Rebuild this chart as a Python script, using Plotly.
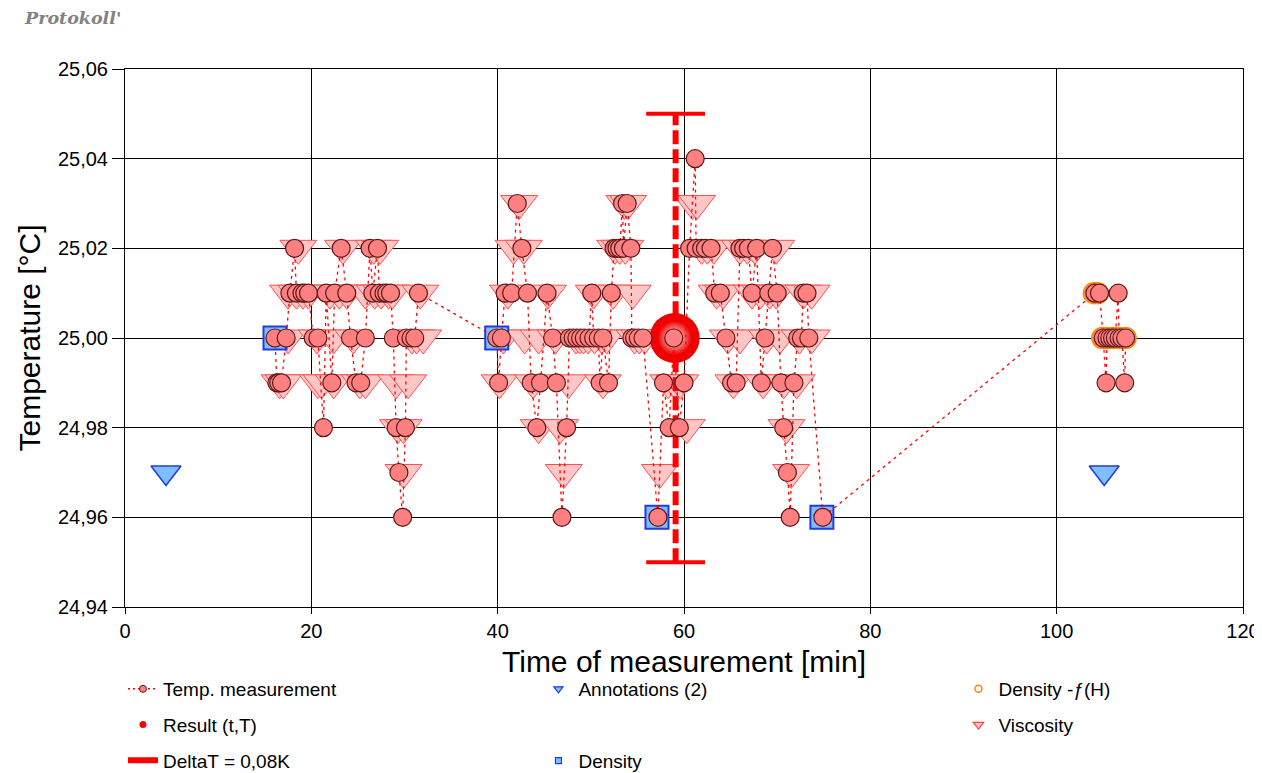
import plotly.graph_objects as go

# ---------------- data ----------------
temp_t = [16.1, 16.3, 16.5, 16.8, 17.3, 17.7, 18.2, 18.4, 19.0, 19.3, 19.7, 20.2, 20.7, 21.3, 21.6,
          22.2, 22.5, 23.2, 23.8, 24.2, 24.8, 25.3, 25.8, 26.3, 26.6, 27.1, 27.3, 27.8, 28.1, 28.5,
          28.8, 29.1, 29.4, 29.8, 30.1, 30.2, 30.7, 31.1, 31.5,
          39.9, 40.1, 40.4, 40.8, 41.5, 42.1, 42.6, 43.2, 43.6, 44.2, 44.6, 45.3, 45.9, 46.3, 46.9,
          47.4, 47.7, 48.1, 48.5, 48.9, 49.3, 49.8, 50.1, 50.3, 50.8, 51.0, 51.3, 51.9, 52.2, 52.5,
          52.8, 53.1, 53.4, 53.5, 53.9, 54.3, 54.4, 54.7, 55.1, 55.6, 57.2, 57.8, 58.4, 58.9, 59.5,
          60.0, 60.6, 61.2, 61.3, 61.9, 62.3, 62.9, 63.3, 63.9, 64.5, 65.1, 65.6, 66.0, 66.4, 66.9,
          67.3, 67.8, 68.3, 68.7, 69.1, 69.5, 70.0, 70.4, 70.7, 71.1, 71.4, 71.8, 72.2, 72.6, 72.8,
          73.2, 73.4, 74.9,
          104.1, 104.6, 105.0, 105.3, 105.4, 105.7, 106.0, 106.3, 106.6, 106.7, 107.0, 107.3, 107.4]
temp_T = [25.00, 24.99, 24.99, 24.99, 25.00, 25.01, 25.02, 25.01, 25.01, 25.01, 25.01, 25.00, 25.00, 24.98, 25.01,
          24.99, 25.01, 25.02, 25.01, 25.00, 24.99, 24.99, 25.00, 25.02, 25.01, 25.02, 25.01, 25.01, 25.01, 25.01,
          25.00, 24.98, 24.97, 24.96, 24.98, 25.00, 25.00, 25.00, 25.01,
          25.00, 24.99, 25.00, 25.01, 25.01, 25.03, 25.02, 25.01, 24.99, 24.98, 24.99, 25.01, 25.00, 24.99, 24.96,
          24.98, 25.00, 25.00, 25.00, 25.00, 25.00, 25.00, 25.01, 25.00, 25.00, 24.99, 25.00, 24.99, 25.01, 25.02,
          25.02, 25.02, 25.03, 25.02, 25.03, 25.02, 25.00, 25.00, 25.00, 25.00, 24.96, 24.99, 24.98, 25.00, 24.98,
          24.99, 25.02, 25.04, 25.02, 25.02, 25.02, 25.02, 25.01, 25.01, 25.00, 24.99, 24.99, 25.02, 25.02, 25.02,
          25.01, 25.02, 24.99, 25.00, 25.01, 25.02, 25.01, 24.99, 24.98, 24.97, 24.96, 24.99, 25.00, 25.00, 25.01,
          25.01, 25.00, 24.96,
          25.01, 25.01, 25.00, 24.99, 25.00, 25.00, 25.00, 25.00, 25.01, 25.00, 25.00, 24.99, 25.00]

visc_t = [16.6, 17.0, 17.5, 17.5, 18.4, 18.6, 19.1, 19.7, 20.6, 20.7, 21.1, 22.0, 22.4, 22.4, 23.0,
          23.4, 23.8, 24.5, 25.2, 25.8, 25.8, 26.7, 26.8, 27.4, 27.5, 28.3, 28.7, 29.1, 29.3, 29.9,
          29.9, 30.4, 30.8, 31.3, 31.7, 32.0,
          40.2, 40.6, 41.1, 41.7, 42.3, 42.8, 42.9, 43.8, 44.4, 44.4, 45.4, 46.2, 46.7, 47.1, 47.6,
          48.4, 48.8, 49.2, 49.7, 50.3, 50.4, 51.2, 51.3, 51.7, 52.4, 52.6, 53.1, 53.6, 53.7, 54.0,
          54.5, 54.7, 55.2, 55.8, 57.4, 58.3, 59.0, 59.6, 60.3, 60.9, 61.4, 61.9, 62.5, 63.2, 63.5,
          64.2, 64.7, 65.3, 66.0, 66.0, 66.8, 67.3, 67.6, 68.2, 68.5, 68.9, 69.2, 69.9, 69.9, 70.3,
          70.7, 71.0, 71.5, 72.1, 72.4, 72.8, 73.7, 73.7]
visc_T = [24.99, 24.99, 25.00, 25.01, 25.01, 25.02, 25.01, 25.01, 25.00, 24.99, 24.99, 25.01, 25.00, 24.99, 25.01,
          25.02, 25.01, 25.00, 24.99, 24.99, 25.01, 25.02, 25.01, 25.02, 25.01, 25.01, 25.01, 24.99, 24.98, 24.98,
          24.97, 24.99, 25.00, 25.00, 25.01, 25.00,
          24.99, 25.00, 25.01, 25.02, 25.03, 25.02, 25.00, 24.99, 25.00, 24.98, 25.01, 25.00, 24.98, 24.97, 24.99,
          25.00, 25.00, 25.00, 25.00, 25.01, 25.00, 25.00, 24.99, 25.00, 25.01, 25.02, 25.02, 25.03, 25.02, 25.03,
          25.01, 25.00, 25.00, 25.00, 24.97, 24.99, 24.99, 24.99, 24.98, 25.03, 25.03, 25.02, 25.02, 25.02, 25.01,
          25.01, 25.00, 24.99, 25.00, 25.02, 25.02, 25.01, 25.02, 25.01, 24.99, 25.00, 25.01, 25.01, 25.02, 25.00,
          24.99, 24.98, 24.97, 24.99, 25.00, 25.01, 25.01, 25.00]

dens_t = [16.1, 39.9, 57.1, 74.8]
dens_T = [25.00, 25.00, 24.96, 24.96]

densfh_t = [104.0, 104.4, 104.9, 105.4, 106.0, 106.6, 107.4]
densfh_T = [25.01, 25.01, 25.00, 25.00, 25.00, 25.00, 25.00]

annot_t = [4.4, 105.1]
annot_T = [24.97, 24.97]

result_t = [59.0]
result_T = [25.00]

delta_t = [59.1, 59.1]
delta_T = [24.95, 25.05]

x_ticks = [0, 20, 40, 60, 80, 100, 120]
y_ticks = [24.94, 24.96, 24.98, 25.00, 25.02, 25.04, 25.06]

# ---------------- styles ----------------
SALMON = "rgb(255,128,128)"
DARK = "rgb(90,25,25)"
PINK = "rgb(255,198,198)"
RED = "rgb(255,0,0)"
LBLUE = "rgb(128,190,255)"
BLUE = "rgb(30,60,230)"
ORANGE = "rgb(255,140,0)"

fig = go.Figure()

# Viscosity
fig.add_trace(go.Scatter(x=visc_t, y=visc_T, mode="markers", showlegend=False, hoverinfo="skip",
                         marker=dict(symbol="triangle-down", size=32, color=PINK,
                                     line=dict(color="rgb(255,80,80)", width=1))))
# Density
fig.add_trace(go.Scatter(x=dens_t, y=dens_T, mode="markers", showlegend=False,
                         marker=dict(symbol="square", size=23, color=LBLUE, line=dict(color=BLUE, width=2))))
# Density -f(H)
fig.add_trace(go.Scatter(x=densfh_t, y=densfh_T, mode="markers", showlegend=False,
                         marker=dict(symbol="circle", size=21, color=SALMON, line=dict(color=ORANGE, width=1.5))))
# Annotations
fig.add_trace(go.Scatter(x=annot_t, y=annot_T, mode="markers", showlegend=False,
                         marker=dict(symbol="triangle-down", size=26, color=LBLUE, line=dict(color=BLUE, width=1.5))))
# DeltaT bar
fig.add_trace(go.Scatter(x=delta_t, y=delta_T, mode="lines", showlegend=False,
                         line=dict(color=RED, width=6, dash="14px,5px")))
fig.add_trace(go.Scatter(x=delta_t, y=delta_T, mode="markers", showlegend=False,
                         marker=dict(symbol="line-ew", size=42, line=dict(color=RED, width=4))))
# Result sphere (solid body + highlight)
fig.add_trace(go.Scatter(x=result_t, y=result_T, mode="markers", showlegend=False,
                         marker=dict(symbol="circle", size=50, color="rgb(240,0,0)", line=dict(width=0))))
fig.add_trace(go.Scatter(x=result_t, y=result_T, mode="markers", showlegend=False,
                         marker=dict(symbol="circle", size=34, color="rgb(240,0,0)",
                                     gradient=dict(type="radial", color="rgb(255,255,255)"),
                                     line=dict(width=0))))
# Temperature measurement
fig.add_trace(go.Scatter(x=temp_t, y=temp_T, mode="lines+markers", showlegend=False,
                         line=dict(color=RED, width=1.3, dash="3px,4px"),
                         marker=dict(symbol="circle", size=18, color=SALMON, line=dict(color=DARK, width=1.2))))

# ---------------- legend proxies ----------------
def proxy(name, legend, group, **kw):
    fig.add_trace(go.Scatter(x=[None], y=[None], name=name, legend=legend, legendgroup=group,
                             showlegend=True, **kw))

proxy("Temp. measurement", "legend", "a", mode="lines+markers",
      line=dict(color=RED, width=1.5, dash="2px,3px"),
      marker=dict(symbol="circle", size=7, color=SALMON, line=dict(color=DARK, width=1)))
proxy("Result (t,T)", "legend", "b", mode="markers",
      marker=dict(symbol="circle", size=7, color=RED, line=dict(width=0)))
proxy("DeltaT = 0,08K", "legend", "c", mode="lines", line=dict(color=RED, width=6))
proxy("Annotations (2)", "legend2", "d", mode="markers",
      marker=dict(symbol="triangle-down", size=8, color=LBLUE, line=dict(color=BLUE, width=1.2)))
proxy("Density", "legend2", "e", mode="markers",
      marker=dict(symbol="square", size=6, color=LBLUE, line=dict(color=BLUE, width=1.2)))
proxy("Density -ƒ(H)", "legend3", "f", mode="markers",
      marker=dict(symbol="circle-open", size=7, color=ORANGE, line=dict(color=ORANGE, width=1.5)))
proxy("Viscosity", "legend3", "g", mode="markers",
      marker=dict(symbol="triangle-down", size=9, color=PINK, line=dict(color="rgb(255,60,60)", width=1.2)))

legend_font = dict(family="Liberation Sans, Arial, sans-serif", size=19, color="black")
common_leg = dict(font=legend_font, orientation="v", yanchor="top", xanchor="left",
                  bgcolor="rgba(0,0,0,0)", borderwidth=0, itemclick=False)

fig.update_layout(
    width=1254, height=800,
    margin=dict(l=117, r=19, t=61, b=201),
    paper_bgcolor="white", plot_bgcolor="white",
    separators=",.",
    font=dict(family="Liberation Sans, Arial, sans-serif", color="black"),
    xaxis=dict(range=[0, 120], tickvals=x_ticks, showgrid=True, gridcolor="black", gridwidth=1,
               showline=True, linecolor="black", linewidth=1, mirror=True, zeroline=False,
               automargin=False,
               ticks="outside", ticklen=6, tickcolor="black", tickfont=dict(size=20),
               title=dict(text="Time of measurement [min]", font=dict(size=30), standoff=9)),
    yaxis=dict(range=[24.94, 25.06], tickvals=y_ticks, tickformat=".2f", showgrid=True,
               gridcolor="black", gridwidth=1, showline=True, linecolor="black", linewidth=1,
               mirror=True, zeroline=False, automargin=False,
               ticks="outside", ticklen=12, tickcolor="black",
               tickfont=dict(size=20),
               title=dict(text="Temperature [°C]", font=dict(size=30), standoff=8)),
    legend=dict(x=-0.0018, y=-0.1171, tracegroupgap=8, **common_leg),
    legend2=dict(x=0.3698, y=-0.1171, tracegroupgap=44, **common_leg),
    legend3=dict(x=0.7455, y=-0.1171, tracegroupgap=8, **common_leg),
    annotations=[dict(text="<b><i>Protokoll'</i></b>", xref="paper", yref="paper",
                      x=-0.0921, y=1.0948, xanchor="left", yanchor="middle", showarrow=False,
                      font=dict(family="DejaVu Serif, serif", size=17.5, color="rgb(130,130,130)"))],
)

fig.write_html("out.html")
